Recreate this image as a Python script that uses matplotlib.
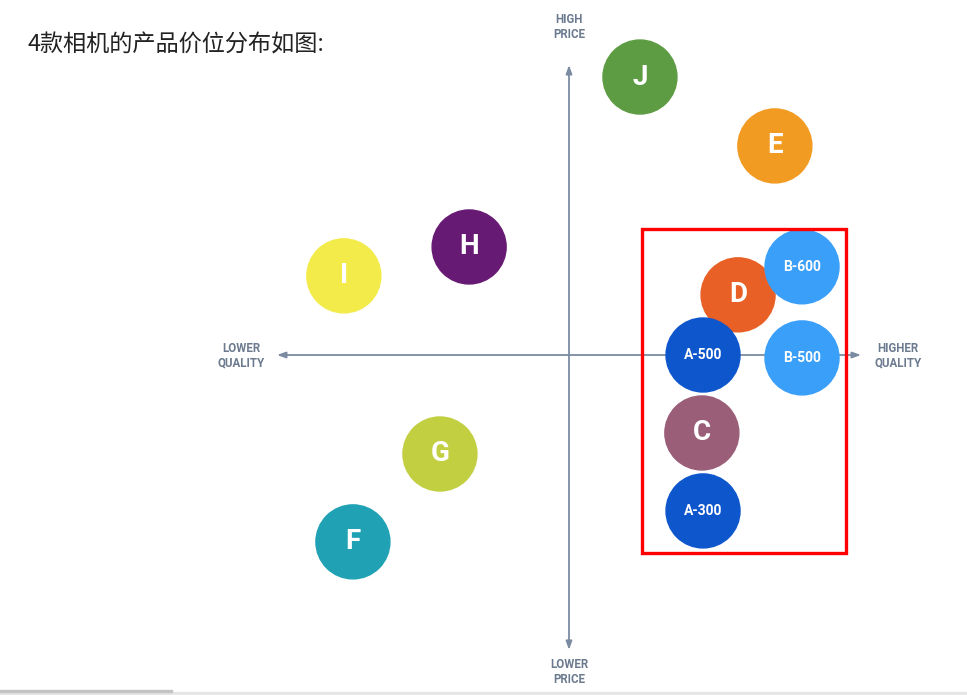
import matplotlib.pyplot as plt
from matplotlib.patches import Circle, Rectangle

plt.rcParams['font.family'] = ['Roboto', 'DejaVu Sans']

# positions on the quality / price map (axis runs -10 .. 10)
labels = ['J', 'E', 'H', 'I', 'D', 'B-600', 'A-500', 'B-500', 'C', 'G', 'A-300', 'F']
quality = [2.43, 7.05, -3.42, -7.71, 5.79, 7.98, 4.59, 7.98, 4.55, -4.42, 4.59, -7.40]
price = [9.52, 7.16, 3.70, 2.71, 2.06, 3.02, 0.0, -0.10, -2.67, -3.39, -5.34, -6.40]
colors = ['#5e9c44', '#f29b22', '#671a73', '#f3eb4a', '#e86026', '#3a9ff9',
          '#0e56cc', '#3a9ff9', '#9a5e78', '#c2cf41', '#0e56cc', '#20a2b4']

highlight_x = [2.5, 9.49]
highlight_y = [-6.78, 4.32]

scale = 29.2  # pixels per unit
cx, cy = 569, 355
W, H = 967, 695

fig = plt.figure(figsize=(W / 100, H / 100), dpi=100)
ax = fig.add_axes([0, 0, 1, 1])
ax.set_xlim(-cx / scale, (W - cx) / scale)
ax.set_ylim((cy - H) / scale, cy / scale)
ax.axis('off')

axis_color = '#7b8ba1'
arrow = dict(arrowstyle='-|>,head_length=0.5,head_width=0.18', color=axis_color, lw=1.3,
             shrinkA=0, shrinkB=0)
ax.annotate('', xy=(10, 0), xytext=(0, 0), arrowprops=arrow, zorder=1)
ax.annotate('', xy=(-10, 0), xytext=(0, 0), arrowprops=arrow, zorder=1)
ax.annotate('', xy=(0, 9.93), xytext=(0, 0), arrowprops=arrow, zorder=1)
ax.annotate('', xy=(0, -10.1), xytext=(0, 0), arrowprops=arrow, zorder=1)

lbl = dict(color='#6b7a8f', fontsize=8.3, fontweight='bold', ha='center', va='center',
           linespacing=1.15)
ax.text(0, 11.23, 'HIGH\nPRICE', **lbl)
ax.text(0, -10.86, 'LOWER\nPRICE', **lbl)
ax.text(-11.23, -0.04, 'LOWER\nQUALITY', **lbl)
ax.text(11.26, -0.04, 'HIGHER\nQUALITY', **lbl)

r = 37 / scale
for i, (name, q, p, c) in enumerate(zip(labels, quality, price, colors)):
    ax.add_patch(Circle((q, p), r, color=c, zorder=2 + i))
    fs = 20 if len(name) == 1 else 10
    ax.text(q, p, name, color='white', fontsize=fs, fontweight='bold',
            ha='center', va='center', zorder=2 + i)

ax.add_patch(Rectangle((highlight_x[0], highlight_y[0]),
                       highlight_x[1] - highlight_x[0], highlight_y[1] - highlight_y[0],
                       fill=False, edgecolor='#ff0000', lw=2.4, zorder=30))

fig.text(28 / W, 1 - 45 / H, '4款相机的产品价位分布如图:', fontsize=16.7,
         family=['Noto Sans CJK SC', 'DejaVu Sans'], color='#222222', va='center', ha='left')

# grey strip at the bottom edge
fig.patches.append(Rectangle((0, 0), 1, 3 / H, transform=fig.transFigure,
                             color='#e6e6e6', zorder=0))
fig.patches.append(Rectangle((0, 3 / H), 172 / W, 2 / H, transform=fig.transFigure,
                             color='#c4c4c4', zorder=0))

fig.savefig('out.png', dpi=100)
